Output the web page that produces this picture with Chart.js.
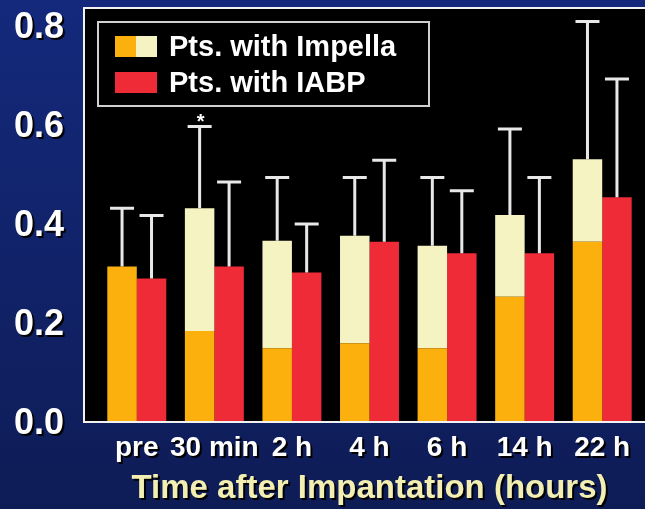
<!DOCTYPE html>
<html>
<head>
<meta charset="utf-8">
<script src="https://cdn.jsdelivr.net/npm/chart.js@4/dist/chart.umd.min.js"></script>
<style>
  html, body { margin: 0; padding: 0; }
  body { width: 645px; height: 509px; overflow: hidden; background: linear-gradient(#14297c, #0e1c56); }
  #wrap { width: 645px; height: 509px; }
</style>
</head>
<body>
<div id="wrap"><canvas id="chart"></canvas></div>
<script>
// data
const categories = ['pre', '30 min', '2 h', '4 h', '6 h', '14 h', '22 h']
const seriesNames = ['Pts. with Impella', 'Pts. with IABP']
const impellaLow = [0.312, 0.182, 0.147, 0.157, 0.147, 0.251, 0.362]
const impellaHigh = [0.312, 0.430, 0.364, 0.374, 0.354, 0.416, 0.529]
const impellaErr = [0.430, 0.595, 0.492, 0.492, 0.492, 0.590, 0.807]
const iabp = [0.288, 0.312, 0.300, 0.362, 0.339, 0.339, 0.452]
const iabpErr = [0.415, 0.483, 0.398, 0.527, 0.465, 0.492, 0.691]
const marks = ['', '*', '', '', '', '', '']
const yTicks = [0, 0.2, 0.4, 0.6, 0.8]
const xTitle = 'Time after Impantation (hours)'

// colours
const orange = '#fcb00e'
const pale = '#f4f3c1'
const red = '#ee2b37'
const whiteLine = '#e8e8e8'

Chart.defaults.font.family = "'Liberation Sans', Arial, sans-serif"

// black plot box + text shadow for the axis labels
const frame = {
  id: 'frame',
  beforeDraw(chart) {
    const { ctx, chartArea: a } = chart
    ctx.shadowColor = 'transparent'
    ctx.save()
    const left = a.left - 14, top = a.top - 17, bottom = a.bottom + 1
    ctx.fillStyle = '#000'
    ctx.fillRect(left, top, chart.width - left + 10, bottom - top)
    ctx.strokeStyle = '#f2f2f2'
    ctx.lineWidth = 2
    ctx.beginPath()
    ctx.moveTo(chart.width + 5, top)
    ctx.lineTo(left, top)
    ctx.lineTo(left, bottom)
    ctx.lineTo(chart.width + 5, bottom)
    ctx.stroke()
    ctx.restore()
    ctx.shadowColor = '#000'
    ctx.shadowOffsetX = 2
    ctx.shadowOffsetY = 2
    ctx.shadowBlur = 0
  },
  beforeDatasetsDraw(chart) {
    const ctx = chart.ctx
    ctx.shadowColor = 'transparent'
    ctx.shadowOffsetX = 0
    ctx.shadowOffsetY = 0
  }
}

// upper error bars, asterisk and the legend box
const extras = {
  id: 'extras',
  afterDatasetsDraw(chart) {
    const { ctx, chartArea: a } = chart
    const y = chart.scales.y
    ctx.save()
    ctx.strokeStyle = whiteLine
    ctx.lineWidth = 3
    ;[[1, impellaErr], [2, iabpErr]].forEach(([di, errs]) => {
      chart.getDatasetMeta(di).data.forEach((el, i) => {
        const yTop = y.getPixelForValue(errs[i])
        ctx.beginPath()
        ctx.moveTo(el.x, el.y)
        ctx.lineTo(el.x, yTop)
        ctx.moveTo(el.x - 12, yTop)
        ctx.lineTo(el.x + 12, yTop)
        ctx.stroke()
        if (di === 1 && marks[i]) {
          ctx.fillStyle = '#fff'
          ctx.font = "bold 20px 'Liberation Sans', Arial"
          ctx.textAlign = 'center'
          ctx.textBaseline = 'alphabetic'
          ctx.fillText(marks[i], el.x + 1, yTop + 2)
        }
      })
    })

    // legend
    const lx = a.left, ly = a.top - 3
    ctx.strokeStyle = '#d0d0d0'
    ctx.lineWidth = 2
    ctx.strokeRect(lx, ly, 331, 84)
    const rows = [[orange, pale], [red, red]]
    ctx.font = "bold 29px 'Liberation Sans', Arial"
    ctx.textAlign = 'left'
    ctx.textBaseline = 'middle'
    rows.forEach((cols, r) => {
      const sy = ly + 14 + r * 36
      ctx.fillStyle = cols[0]
      ctx.fillRect(lx + 17, sy, 21, 21)
      ctx.fillStyle = cols[1]
      ctx.fillRect(lx + 38, sy, 21, 21)
      ctx.fillStyle = '#fff'
      ctx.fillText(seriesNames[r], lx + 71, sy + 12)
    })
    ctx.restore()
  }
}

const ctx = document.getElementById('chart').getContext('2d')

new Chart(ctx, {
  type: 'bar',
  data: {
    labels: categories,
    datasets: [
      { label: seriesNames[0], data: impellaLow, backgroundColor: orange, stack: 'impella' },
      { label: seriesNames[0], data: impellaLow.map((v, i) => [v, impellaHigh[i]]), backgroundColor: pale, stack: 'impella' },
      { label: seriesNames[1], data: iabp, backgroundColor: red, stack: 'iabp' }
    ]
  },
  options: {
    responsive: true,
    maintainAspectRatio: false,
    animation: false,
    categoryPercentage: 0.76,
    barPercentage: 1,
    layout: { padding: { top: 25, right: 4, left: 0, bottom: 0 } },
    plugins: { legend: { display: false }, tooltip: { enabled: false } },
    scales: {
      x: {
        grid: { display: false },
        border: { display: false },
        ticks: {
          color: '#fff',
          font: { size: 28, weight: 'bold' },
          padding: 2,
          maxRotation: 0,
          autoSkip: false
        },
        title: {
          display: true,
          text: xTitle,
          color: '#f3efb3',
          font: { size: 33, weight: 'bold' },
          padding: { top: 0, bottom: 0 }
        },
        afterFit: s => { s.height = 88 }
      },
      y: {
        min: 0,
        max: 0.8,
        stacked: false,
        grid: { display: false },
        border: { display: false },
        afterBuildTicks: s => { s.ticks = yTicks.map(v => ({ value: v })) },
        ticks: {
          color: '#fff',
          font: { size: 36, weight: 'bold' },
          padding: 26,
          labelOffset: 3,
          callback: v => v.toFixed(1)
        },
        afterFit: s => {
          s.width = 98
          s.paddingTop = 0
          s.paddingBottom = 0
        }
      }
    }
  },
  plugins: [frame, extras]
})
</script>
</body>
</html>
